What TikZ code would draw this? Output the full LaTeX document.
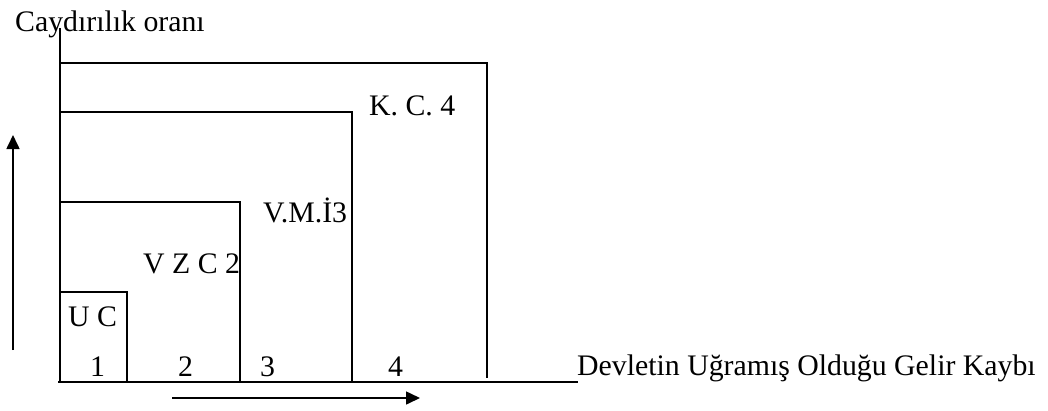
\documentclass[tikz,border=0pt]{standalone}
\usepackage{fontspec}
\setmainfont{Liberation Serif}
\usetikzlibrary{arrows.meta}
\begin{document}
\begin{tikzpicture}[x=1pt,y=-1pt,
  lbl/.style={anchor=base west,inner sep=0pt,font=\fontsize{29.8}{34}\selectfont},
  ln/.style={line width=1.6pt},
  arr/.style={line width=1.6pt,-{Triangle[length=14pt,width=13pt]}}]
\useasboundingbox (0,0) rectangle (1048,410);
\coordinate (o) at (60,382);
\coordinate (ytop) at (60,28);
\coordinate (xs) at (58,382);
\coordinate (xe) at (578,382);
% axes
\draw[ln] (o) -- (ytop);
\draw[ln] (xs) -- (xe);
% boxes
\draw[ln] (60,292) -- (127,292) -- (127,382);
\draw[ln] (60,202) -- (240,202) -- (240,382);
\draw[ln] (60,112) -- (352,112) -- (352,382);
\draw[ln] (60,63) -- (487,63) -- (487,378);
% arrows
\coordinate (ua) at (13,350);
\coordinate (ub) at (13,135);
\draw[arr] (ua) -- (ub);
\coordinate (ra) at (172,398);
\coordinate (rb) at (420,398);
\draw[arr] (ra) -- (rb);
% labels
\node[lbl] (ylab) at (15,31) {Caydırılık oranı};
\node[lbl] (xlab) at (577,375) {Devletin Uğramış Olduğu Gelir Kaybı};
\node[lbl] (uc) at (68,326) {U C};
\node[lbl] (vzc) at (143,273) {V Z C 2};
\node[lbl] (vmi) at (263,222) {V.M.İ3};
\node[lbl] (kc) at (369,115) {K. C. 4};
\node[lbl] (n1) at (90,376) {1};
\node[lbl] (n2) at (178,376) {2};
\node[lbl] (n3) at (260,376) {3};
\node[lbl] (n4) at (388,376) {4};
\end{tikzpicture}
\end{document}
